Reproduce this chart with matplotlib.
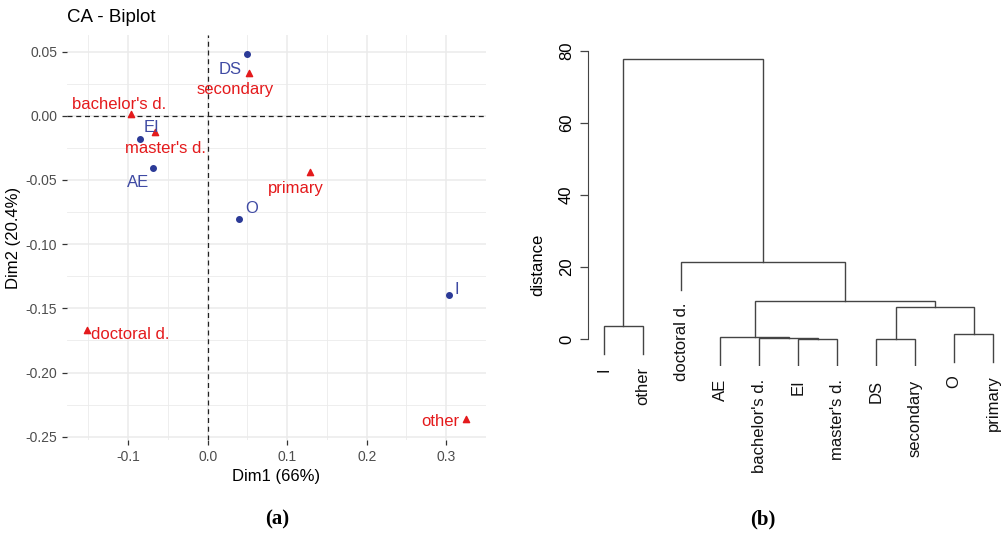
import numpy as np
import matplotlib.pyplot as plt

# ---- CA biplot data (panel a) ----
row_names = ["DS", "EI", "AE", "O", "I"]
row_x = [0.0498, -0.0853, -0.0686, 0.0389, 0.3036]
row_y = [0.0479, -0.0181, -0.0406, -0.0807, -0.1392]
row_lab_x = [0.0276, -0.0707, -0.0875, 0.0548, 0.3128]
row_lab_y = [0.0363, -0.0095, -0.0523, -0.0724, -0.1356]

col_names = ["secondary", "bachelor's d.", "master's d.", "primary", "doctoral d.", "other"]
col_x = [0.0518, -0.0970, -0.0669, 0.1292, -0.1514, 0.3254]
col_y = [0.0336, 0.0016, -0.0127, -0.0440, -0.1667, -0.2360]
col_lab_x = [0.0343, -0.1110, -0.0530, 0.1113, -0.0970, 0.2920]
col_lab_y = [0.0207, 0.0085, -0.0256, -0.0569, -0.1700, -0.2380]

# ---- dendrogram data (panel b) ----
leaf_order = ["I", "other", "doctoral d.", "AE", "bachelor's d.", "EI",
              "master's d.", "DS", "secondary", "O", "primary"]
# merges: (left, right, height); ints refer to earlier merges (1-based)
merges = [("DS", "secondary", 0.05),
          ("EI", "master's d.", 0.10),
          ("bachelor's d.", 2, 0.28),
          ("AE", 3, 0.45),
          ("O", "primary", 1.4),
          ("I", "other", 3.6),
          (1, 5, 8.8),
          (4, 7, 10.5),
          ("doctoral d.", 8, 21.4),
          (6, 9, 77.8)]

BLUE = "#2b3a97"
BLUE_TXT = "#3f4aa3"
RED = "#e41a1c"
GRID = "#ebebeb"

fig = plt.figure(figsize=(10.06, 5.34), dpi=100)
plt.rcParams['font.family'] = ['Liberation Sans', 'DejaVu Sans']

# ================= panel (a) =================
ax = fig.add_axes([67 / 1006, 1 - 440 / 534, 419 / 1006, 405 / 534])
ax.set_xlim(-0.177, 0.349)
ax.set_ylim(-0.2525, 0.0629)
ax.set_xticks([-0.1, 0.0, 0.1, 0.2, 0.3])
ax.set_xticklabels(["-0.1", "0.0", "0.1", "0.2", "0.3"])
ax.set_yticks([0.05, 0.0, -0.05, -0.10, -0.15, -0.20, -0.25])
ax.set_yticklabels(["0.05", "0.00", "-0.05", "-0.10", "-0.15", "-0.20", "-0.25"])
ax.set_xticks(np.arange(-0.15, 0.36, 0.1), minor=True)
ax.set_yticks(np.arange(-0.225, 0.06, 0.05), minor=True)
ax.grid(True, which="major", color=GRID, lw=1.1)
ax.grid(True, which="minor", color=GRID, lw=0.6)
ax.set_axisbelow(True)
for s in ax.spines.values():
    s.set_visible(False)
ax.tick_params(which="major", length=3.5, width=0.9, color="#333333",
               labelcolor="#4d4d4d", labelsize=10)
ax.tick_params(which="minor", length=0)

ax.axhline(0, color="#222222", lw=0.9, ls=(0, (4, 3)), zorder=1)
ax.axvline(0, color="#222222", lw=0.9, ls=(0, (4, 3)), zorder=1)

ax.scatter(row_x, row_y, s=16, color=BLUE, marker="o", zorder=3)
ax.scatter(col_x, col_y, s=20, color=RED, marker="^", zorder=3)
for name, lx, ly in zip(row_names, row_lab_x, row_lab_y):
    ax.text(lx, ly, name, color=BLUE_TXT, fontsize=12, ha="center", va="center")
for name, lx, ly in zip(col_names, col_lab_x, col_lab_y):
    ax.text(lx, ly, name, color=RED, fontsize=12, ha="center", va="center")

ax.set_xlabel("Dim1 (66%)", fontsize=12, labelpad=4)
ax.set_ylabel("Dim2 (20.4%)", fontsize=12, labelpad=3)
fig.text(67 / 1006, 1 - 18 / 534, "CA - Biplot", fontsize=13.5, ha="left", va="center")

# ================= panel (b) =================
bx = fig.add_axes([588 / 1006, 1 - 366 / 534, (1006 - 588) / 1006, (366 - 47) / 534])
bx.set_xlim(0.6, 11.33)
bx.set_ylim(-7.5, 81.1)

pos = {name: i + 1 for i, name in enumerate(leaf_order)}
top = {}
hang = 0.1 * max(h for _, _, h in merges)
node_x, node_h = [], []


def get(node):
    if isinstance(node, int):
        return node_x[node - 1], node_h[node - 1], False
    return pos[node], None, True


for left, right, h in merges:
    xl, hl, leaf_l = get(left)
    xr, hr, leaf_r = get(right)
    if leaf_l:
        hl = h - hang
        top[left] = hl
    if leaf_r:
        hr = h - hang
        top[right] = hr
    bx.plot([xl, xl, xr, xr], [hl, h, h, hr], color="#444444", lw=1.0,
            solid_joinstyle="miter")
    node_x.append((xl + xr) / 2)
    node_h.append(h)

for name in leaf_order:
    bx.text(pos[name], top[name] - 3.6, name, rotation=90, ha="center", va="top",
            fontsize=12, color="#111111")

for s in ["top", "right", "bottom"]:
    bx.spines[s].set_visible(False)
bx.spines["left"].set_bounds(0, 80)
bx.spines["left"].set_color("#444444")
bx.set_xticks([])
bx.set_yticks([0, 20, 40, 60, 80])
bx.tick_params(axis="y", length=6, width=0.9, color="#444444", labelsize=12,
               labelrotation=90, pad=4)
for lab in bx.get_yticklabels():
    lab.set_va("center")
fig.text(538 / 1006, 1 - 265 / 534, "distance", rotation=90, fontsize=12,
         ha="center", va="center")

# captions
fig.text(277 / 1006, 1 - 519 / 534, "(a)", family=["Liberation Serif"], fontsize=15,
         fontweight="bold", ha="center", va="center")
fig.text(763 / 1006, 1 - 519 / 534, "(b)", family=["Liberation Serif"], fontsize=15,
         fontweight="bold", ha="center", va="center")

fig.savefig("out.png", dpi=100)
